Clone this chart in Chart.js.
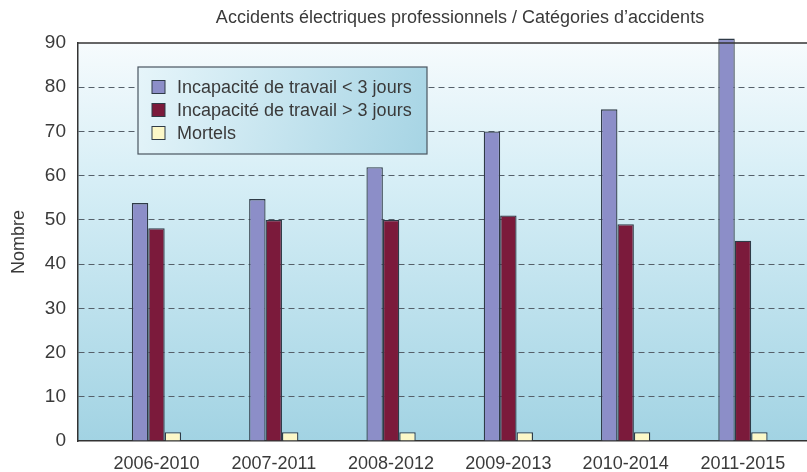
<!DOCTYPE html>
<html>
<head>
<meta charset="utf-8">
<script src="https://cdn.jsdelivr.net/npm/chart.js@4"></script>
<style>
  html, body { margin: 0; padding: 0; background: #fff; }
  #wrap { width: 807px; height: 472px; }
</style>
</head>
<body>
<div id="wrap"><canvas id="accChart"></canvas></div>
<script>
// Data
const periods = ['2006-2010', '2007-2011', '2008-2012', '2009-2013', '2010-2014', '2011-2015'];
const lessThan3 = [53.8, 54.7, 61.9, 70, 75, 91];
const moreThan3 = [48.1, 50, 50, 51, 49, 45.3];
const fatal = [2, 2, 2, 2, 2, 2];
const yTicks = [0, 10, 20, 30, 40, 50, 60, 70, 80, 90];

const FONT = '"Liberation Sans", Arial, sans-serif';
const TEXT = '#3a3a3a';
const EDGE = '#2f3b47';

const toPoints = vals => vals.map((v, i) => ({ x: i, y: v }));

// background gradient + top border of the plot area
const plotBg = {
  id: 'plotBg',
  beforeDraw(chart) {
    const { ctx, chartArea: a } = chart;
    const g = ctx.createLinearGradient(0, a.top, 0, a.bottom);
    g.addColorStop(0, '#f6fbfd');
    g.addColorStop(0.35, '#d6eef6');
    g.addColorStop(1, '#a2d3e3');
    ctx.save();
    ctx.fillStyle = g;
    ctx.fillRect(a.left, a.top, a.right - a.left, a.bottom - a.top);
    ctx.restore();
  },
  afterDraw(chart) {
    const { ctx, chartArea: a } = chart;
    ctx.save();
    ctx.strokeStyle = '#333';
    ctx.lineWidth = 1.5;
    ctx.beginPath();
    ctx.moveTo(a.left, a.top);
    ctx.lineTo(a.right, a.top);
    ctx.stroke();
    // title
    ctx.fillStyle = TEXT;
    ctx.font = '18px ' + FONT;
    ctx.textAlign = 'center';
    ctx.textBaseline = 'middle';
    ctx.fillText('Accidents électriques professionnels / Catégories d\u2019accidents', 460, 18);
    ctx.restore();
  }
};

// legend box drawn inside the plot area
const boxLegend = {
  id: 'boxLegend',
  afterDatasetsDraw(chart) {
    const { ctx } = chart;
    const x = 138, y = 67, w = 289, h = 87;
    ctx.save();
    const g = ctx.createLinearGradient(x, y, x + w, y + h);
    g.addColorStop(0, '#e6f5fa');
    g.addColorStop(1, '#a6d4e4');
    ctx.fillStyle = g;
    ctx.fillRect(x, y, w, h);
    ctx.strokeStyle = '#4a5560';
    ctx.lineWidth = 1.2;
    ctx.strokeRect(x, y, w, h);
    ctx.font = '18px ' + FONT;
    ctx.textBaseline = 'middle';
    chart.data.datasets.forEach((ds, i) => {
      const cy = 87 + i * 23;
      ctx.fillStyle = ds.backgroundColor;
      ctx.fillRect(152, cy - 6.5, 13, 13);
      ctx.strokeStyle = EDGE;
      ctx.lineWidth = 1;
      ctx.strokeRect(152, cy - 6.5, 13, 13);
      ctx.fillStyle = TEXT;
      ctx.fillText(ds.label, 177, cy + 1);
    });
    ctx.restore();
  }
};

const common = {
  borderColor: EDGE,
  borderWidth: 1.3,
  categoryPercentage: 0.42,
  barPercentage: 1,
  clip: false
};

new Chart(document.getElementById('accChart'), {
  type: 'bar',
  data: {
    datasets: [
      { label: 'Incapacité de travail < 3 jours', data: toPoints(lessThan3), backgroundColor: '#8c8ec8', ...common },
      { label: 'Incapacité de travail > 3 jours', data: toPoints(moreThan3), backgroundColor: '#7b1a3b', ...common },
      { label: 'Mortels', data: toPoints(fatal), backgroundColor: '#fcf8c8', ...common }
    ]
  },
  options: {
    responsive: true,
    maintainAspectRatio: false,
    animation: false,
    layout: { padding: { top: 43, right: 0, left: 0, bottom: 0 } },
    scales: {
      x: {
        type: 'linear',
        offset: false,
        min: -0.669,
        max: 5.546,
        afterFit(scale) { scale.height = 31; },
        afterBuildTicks(scale) { scale.ticks = periods.map((p, i) => ({ value: i })); },
        grid: { display: false, drawTicks: false },
        border: { display: true, color: '#333', width: 1.5 },
        ticks: {
          autoSkip: false,
          maxRotation: 0,
          padding: 12,
          color: TEXT,
          font: { family: FONT, size: 18 },
          callback: v => periods[v] || ''
        }
      },
      y: {
        min: 0,
        max: 90,
        afterFit(scale) { scale.width = 78; },
        afterBuildTicks(scale) { scale.ticks = yTicks.map(v => ({ value: v })); },
        grid: {
          drawTicks: false,
          color: ctx => (ctx.tick && (ctx.tick.value === 0 || ctx.tick.value === 90)) ? 'rgba(0,0,0,0)' : '#55606a',
          lineWidth: 1
        },
        border: { display: true, color: '#333', width: 1.5, dash: [6, 4] },
        ticks: {
          padding: 12,
          color: TEXT,
          font: { family: FONT, size: 19 }
        },
        title: {
          display: true,
          text: 'Nombre',
          color: TEXT,
          font: { family: FONT, size: 18 },
          padding: { top: 8, bottom: 0 }
        }
      }
    },
    plugins: {
      legend: { display: false },
      tooltip: { enabled: false }
    }
  },
  plugins: [plotBg, boxLegend]
});
</script>
</body>
</html>
